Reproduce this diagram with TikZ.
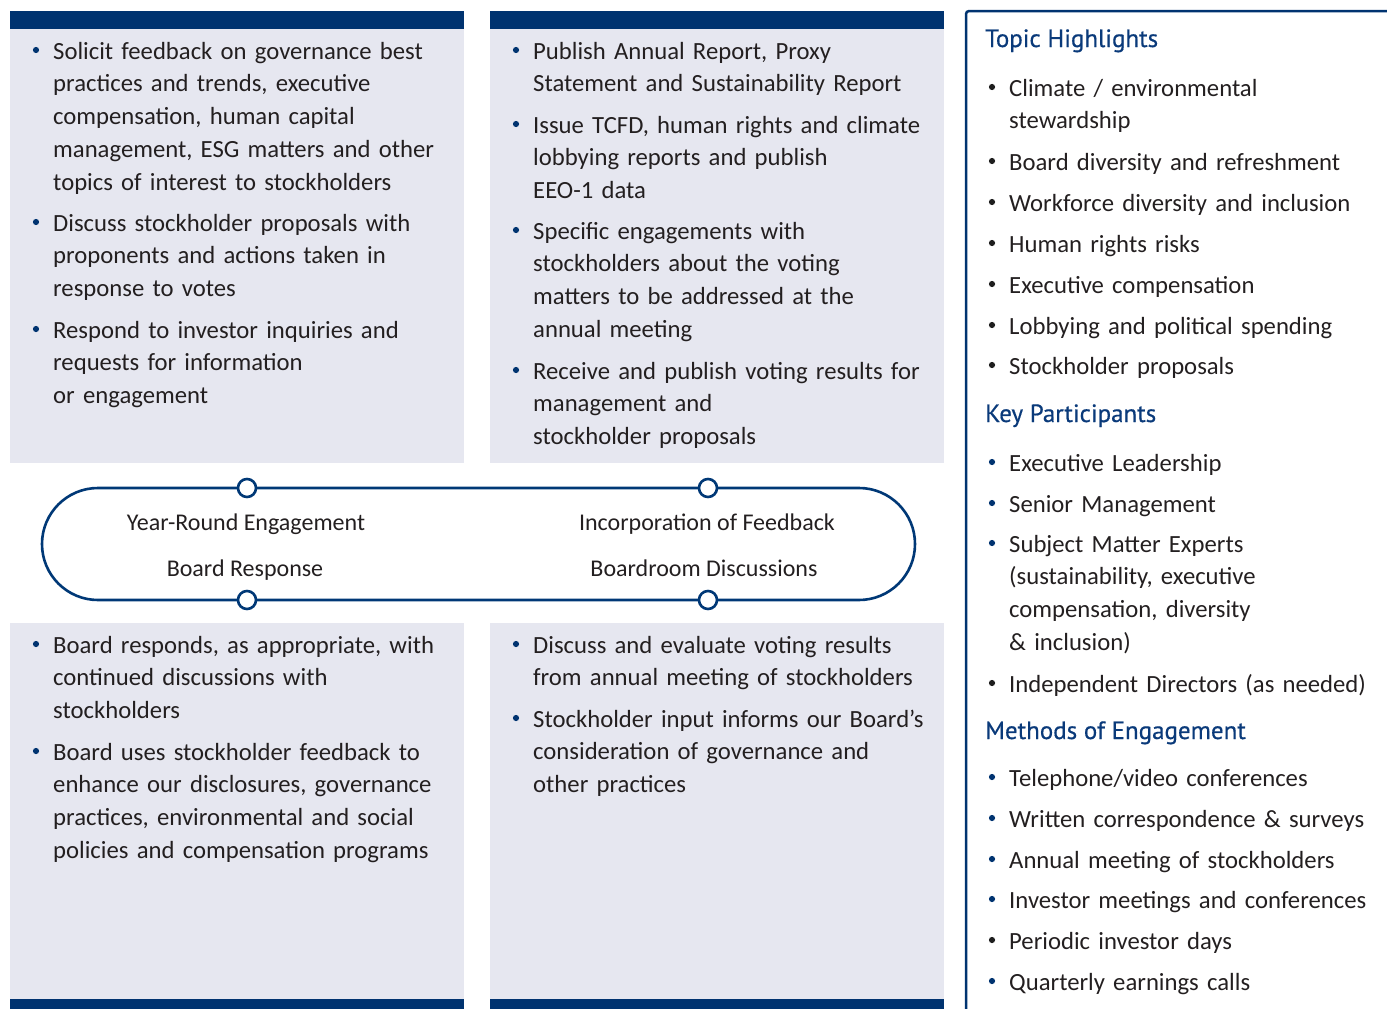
\documentclass[tikz,border=0pt]{standalone}
\usepackage{fontspec}
\setmainfont{Carlito}
\newfontfamily\headfont[FakeBold=0.5]{PT Sans}
\usetikzlibrary{calc}
\definecolor{navy}{RGB}{0,51,112}
\definecolor{boxfill}{RGB}{230,231,240}
\definecolor{textc}{RGB}{35,31,32}
\definecolor{loopc}{RGB}{0,56,118}
\definecolor{headc}{RGB}{10,58,122}
\definecolor{dotk}{RGB}{30,30,30}
\newcommand{\bodyfont}{\fontsize{24.7}{32.8}\selectfont}
\tikzset{
  itemtext/.style={anchor=base west, inner sep=0pt, text width=440pt, align=left, font=\bodyfont, text=textc},
  looplabel/.style={anchor=base, inner sep=0pt, font=\fontsize{24}{28}\selectfont, text=textc},
  heading/.style={anchor=base west, inner sep=0pt, font=\headfont\fontsize{25}{30}\selectfont, text=headc},
  bar/.style={fill=navy},
  lightbox/.style={fill=boxfill},
  knot/.style={circle, draw=loopc, line width=2.6pt, fill=white, minimum size=18pt, inner sep=0pt},
}
\newcommand{\bul}[2]{\fill[#1] ($(#2.base west)+(-17,-9)$) circle (3.1pt);}
\begin{document}
\begin{tikzpicture}[x=1pt,y=-1pt]
\useasboundingbox (0,0) rectangle (1387,1009);
% boxes
\fill[lightbox] (10,29) rectangle (464,463);
\fill[bar] (10,11) rectangle (464,29);
\fill[lightbox] (490,29) rectangle (944,463);
\fill[bar] (490,11) rectangle (944,29);
\fill[lightbox] (10,623) rectangle (464,999);
\fill[bar] (10,999) rectangle (464,1009);
\fill[lightbox] (490,623) rectangle (944,999);
\fill[bar] (490,999) rectangle (944,1009);
% right panel border
\draw[navy, line width=2.5pt, rounded corners=3pt] (966,1012) -- (966,11) -- (1390,11);
% loop
\draw[loopc, line width=2.6pt, rounded corners=56pt] (42,488) rectangle (915,600);
\node[knot] (k1) at (247,488) {};
\node[knot] (k2) at (708,488) {};
\node[knot] (k3) at (247,600) {};
\node[knot] (k4) at (708,600) {};
\node[looplabel] (l1) at (246,530) {Year-Round Engagement};
\node[looplabel] (l2) at (245,576) {Board Response};
\node[looplabel] (l3) at (707,530) {Incorporation of Feedback};
\node[looplabel] (l4) at (704,576) {Boardroom Discussions};
% top-left
\node[itemtext] (a1) at (53,59) {Solicit feedback on governance best\\practices and trends, executive\\compensation, human capital\\management, ESG matters and other\\topics of interest to stockholders};
\node[itemtext] (a2) at (53,231) {Discuss stockholder proposals with\\proponents and actions taken in\\response to votes};
\node[itemtext] (a3) at (53,338) {Respond to investor inquiries and\\requests for information\\or engagement};
\bul{navy}{a1}\bul{navy}{a2}\bul{navy}{a3}
% top-right
\node[itemtext] (b1) at (533,59) {Publish Annual Report, Proxy\\Statement and Sustainability Report};
\node[itemtext] (b2) at (533,133) {Issue TCFD, human rights and climate\\lobbying reports and publish\\EEO-1 data};
\node[itemtext] (b3) at (533,239) {Specific engagements with\\stockholders about the voting\\matters to be addressed at the\\annual meeting};
\node[itemtext] (b4) at (533,379) {Receive and publish voting results for\\management and\\stockholder proposals};
\bul{navy}{b1}\bul{navy}{b2}\bul{navy}{b3}\bul{navy}{b4}
% bottom-left
\node[itemtext] (c1) at (53,653) {Board responds, as appropriate, with\\continued discussions with\\stockholders};
\node[itemtext] (c2) at (53,760) {Board uses stockholder feedback to\\enhance our disclosures, governance\\practices, environmental and social\\policies and compensation programs};
\bul{navy}{c1}\bul{navy}{c2}
% bottom-right
\node[itemtext] (d1) at (533,653) {Discuss and evaluate voting results\\from annual meeting of stockholders};
\node[itemtext] (d2) at (533,727) {Stockholder input informs our Board’s\\consideration of governance and\\other practices};
\bul{navy}{d1}\bul{navy}{d2}
% right panel
\node[heading] (h1) at (985,47) {Topic Highlights};
\node[itemtext] (t1) at (1009,96) {Climate / environmental\\stewardship};
\node[itemtext] (t2) at (1009,170) {Board diversity and refreshment};
\node[itemtext] (t3) at (1009,211) {Workforce diversity and inclusion};
\node[itemtext] (t4) at (1009,252) {Human rights risks};
\node[itemtext] (t5) at (1009,293) {Executive compensation};
\node[itemtext] (t6) at (1009,334) {Lobbying and political spending};
\node[itemtext] (t7) at (1009,374) {Stockholder proposals};
\bul{dotk}{t1}\bul{dotk}{t2}\bul{dotk}{t3}\bul{dotk}{t4}\bul{dotk}{t5}\bul{dotk}{t6}\bul{dotk}{t7}
\node[heading] (h2) at (985,422) {Key Participants};
\node[itemtext] (p1) at (1009,471) {Executive Leadership};
\node[itemtext] (p2) at (1009,512) {Senior Management};
\node[itemtext] (p3) at (1009,552) {Subject Matter Experts\\(sustainability, executive\\compensation, diversity\\\& inclusion)};
\node[itemtext] (p4) at (1009,692) {Independent Directors (as needed)};
\bul{navy}{p1}\bul{navy}{p2}\bul{navy}{p3}\bul{dotk}{p4}
\node[heading] (h3) at (985,739) {Methods of Engagement};
\node[itemtext] (m1) at (1009,786) {Telephone/video conferences};
\node[itemtext] (m2) at (1009,827) {Written correspondence \& surveys};
\node[itemtext] (m3) at (1009,868) {Annual meeting of stockholders};
\node[itemtext] (m4) at (1009,908) {Investor meetings and conferences};
\node[itemtext] (m5) at (1009,949) {Periodic investor days};
\node[itemtext] (m6) at (1009,990) {Quarterly earnings calls};
\bul{navy}{m1}\bul{navy}{m2}\bul{navy}{m3}\bul{navy}{m4}\bul{dotk}{m5}\bul{navy}{m6}
\end{tikzpicture}
\end{document}
